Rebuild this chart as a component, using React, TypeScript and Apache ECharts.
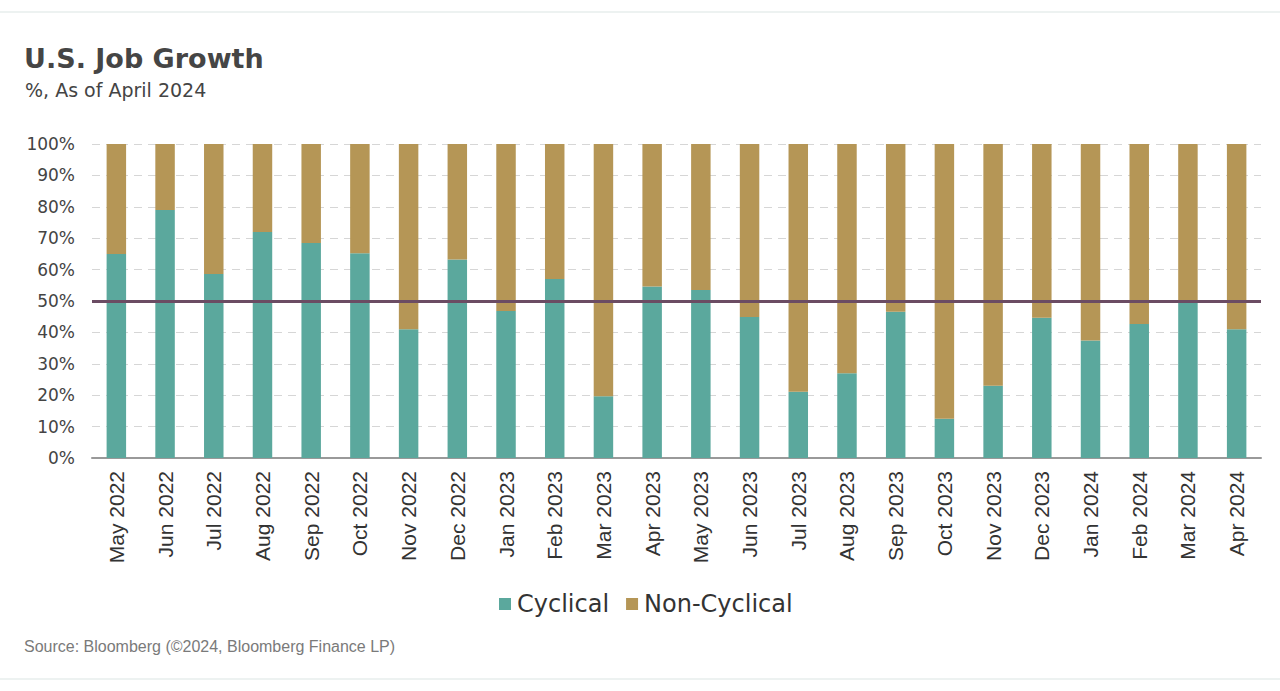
import React, { useEffect, useRef } from "react";
import * as echarts from "echarts";

const categories = [
  "May 2022", "Jun 2022", "Jul 2022", "Aug 2022", "Sep 2022", "Oct 2022",
  "Nov 2022", "Dec 2022", "Jan 2023", "Feb 2023", "Mar 2023", "Apr 2023",
  "May 2023", "Jun 2023", "Jul 2023", "Aug 2023", "Sep 2023", "Oct 2023",
  "Nov 2023", "Dec 2023", "Jan 2024", "Feb 2024", "Mar 2024", "Apr 2024",
];
const cyclical = [
  65, 79, 58.6, 72, 68.5, 65.2, 41, 63.2, 46.8, 57, 19.7, 54.6,
  53.5, 44.9, 21.1, 27, 46.6, 12.5, 23, 44.7, 37.4, 42.7, 49.5, 41,
];
const nonCyclical = [
  35, 21, 41.4, 28, 31.5, 34.8, 59, 36.8, 53.2, 43, 80.3, 45.4,
  46.5, 55.1, 78.9, 73, 53.4, 87.5, 77, 55.3, 62.6, 57.3, 50.5, 59,
];
const yTicks = [0, 10, 20, 30, 40, 50, 60, 70, 80, 90, 100];
const threshold = 50;

const TEAL = "#5BA89D";
const GOLD = "#B59656";
const PURPLE = "#6B4C63";
const GEO = "'DejaVu Sans', 'Noto Sans', sans-serif";
const ARIAL = "'Liberation Sans', Arial, sans-serif";

export default function App() {
  const ref = useRef<HTMLDivElement>(null);
  useEffect(() => {
    document.body.style.margin = "0";
    const chart = echarts.init(ref.current!, null, { renderer: "svg" });
    chart.setOption({
      animation: false,
      backgroundColor: "#ffffff",
      title: [
        {
          text: "U.S. Job Growth",
          left: 24,
          top: 45,
          padding: 0,
          textStyle: {
            fontFamily: GEO,
            fontSize: 27,
            fontWeight: "bold",
            color: "#454545",
          },
        },
        {
          text: "%, As of April 2024",
          left: 25,
          top: 80,
          padding: 0,
          textStyle: { fontFamily: GEO, fontSize: 19, fontWeight: "normal", color: "#444444" },
        },
        {
          text: "Source: Bloomberg (©2024, Bloomberg Finance LP)",
          left: 24,
          top: 638,
          padding: 0,
          textStyle: { fontFamily: ARIAL, fontSize: 16, fontWeight: "normal", color: "#7a7a7a" },
        },
      ],
      legend: {
        data: ["Cyclical", "Non-Cyclical"],
        left: 499,
        top: 592,
        padding: 0,
        itemWidth: 12,
        itemHeight: 12,
        itemGap: 17,
        icon: "rect",
        textStyle: { fontFamily: GEO, fontSize: 24, color: "#333333", padding: [0, 0, 0, 1] },
      },
      graphic: [
        { type: "line", shape: { x1: 0, y1: 12, x2: 1280, y2: 12 }, style: { stroke: "#dbe5e3", lineWidth: 1 } },
        { type: "line", shape: { x1: 0, y1: 679, x2: 1280, y2: 679 }, style: { stroke: "#dbe5e3", lineWidth: 1 } },
      ],
      grid: { left: 92, right: 19, top: 144, bottom: 233, containLabel: false },
      xAxis: {
        type: "category",
        data: categories,
        axisLine: { lineStyle: { color: "#999999", width: 2 } },
        axisTick: { show: false },
        axisLabel: {
          rotate: 90,
          interval: 0,
          margin: 13,
          fontFamily: ARIAL,
          fontSize: 21,
          color: "#333333",
        },
      },
      yAxis: {
        type: "value",
        min: 0,
        max: 100,
        interval: 10,
        axisLine: { show: false },
        axisTick: { show: false },
        splitLine: { lineStyle: { color: "#d6d6d6", type: [8, 6], width: 1 } },
        axisLabel: {
          formatter: (v: number) => (yTicks.includes(v) ? `${v}%` : ""),
          margin: 17,
          fontFamily: GEO,
          fontSize: 17,
          color: "#444444",
        },
      },
      series: [
        {
          name: "Cyclical",
          type: "bar",
          stack: "total",
          data: cyclical,
          barWidth: "40%",
          itemStyle: { color: TEAL },
        },
        {
          name: "Non-Cyclical",
          type: "bar",
          stack: "total",
          data: nonCyclical,
          barWidth: "40%",
          itemStyle: { color: GOLD },
          markLine: {
            silent: true,
            symbol: "none",
            label: { show: false },
            lineStyle: { color: PURPLE, width: 3, type: "solid" },
            data: [{ yAxis: threshold }],
          },
        },
      ],
    });
    return () => chart.dispose();
  }, []);
  return <div ref={ref} style={{ width: 1280, height: 691 }} />;
}
